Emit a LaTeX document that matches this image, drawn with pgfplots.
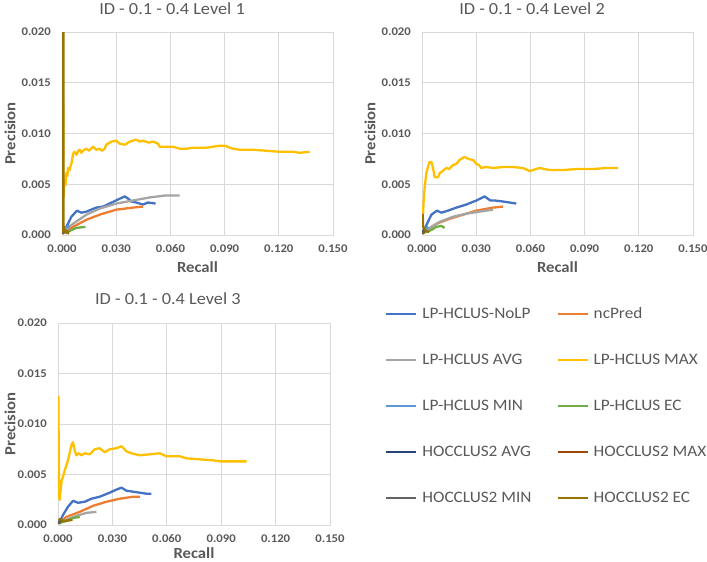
\documentclass[border=0pt]{standalone}
\usepackage{fontspec}
\setmainfont{Carlito}[FakeStretch=1.08]
\usepackage{pgfplots}
\pgfplotsset{compat=1.18}
\definecolor{txt}{HTML}{595959}
\definecolor{grd}{HTML}{D9D9D9}
\definecolor{cNoLP}{HTML}{4472C4}
\definecolor{cNc}{HTML}{ED7D31}
\definecolor{cAvg}{HTML}{A5A5A5}
\definecolor{cMax}{HTML}{FFC000}
\definecolor{cMin}{HTML}{5B9BD5}
\definecolor{cEc}{HTML}{70AD47}
\definecolor{hAvg}{HTML}{264478}
\definecolor{hMax}{HTML}{9E480E}
\definecolor{hMin}{HTML}{636363}
\definecolor{hEc}{HTML}{997300}
\pgfplotsset{
  myax/.style={
    scale only axis, width=271bp, height=203bp,
    xmin=0, xmax=0.15, ymin=0, ymax=0.02,
    xtick={0,0.03,0.06,0.09,0.12,0.15},
    ytick={0,0.005,0.01,0.015,0.02},
    scaled ticks=false,
    /pgf/number format/assume math mode=true,
    /pgf/number format/fixed,
    /pgf/number format/fixed zerofill,
    /pgf/number format/precision=3,
    tick label style={font=\fontsize{11.8}{14}\selectfont\bfseries, text=txt},
    xticklabel style={anchor=center, yshift=-14bp},
    yticklabel style={anchor=east, inner xsep=0pt, xshift=-11bp},
    major tick length=0pt,
    grid=major, grid style={grd, line width=0.75bp},
    axis line style={grd, line width=0.75bp},
    label style={font=\fontsize{15.5}{18}\selectfont\bfseries, text=txt},
    title style={font=\fontsize{17}{20}\selectfont, text=txt, anchor=center},
    every axis plot/.append style={line width=2.3bp, line join=round, no markers},
    xlabel={Recall}, ylabel={Precision},
  },
  sNoLP/.style={cNoLP}, sNc/.style={cNc}, sAvg/.style={cAvg}, sMax/.style={cMax},
  sMin/.style={cMin}, sEc/.style={cEc}, shAvg/.style={hAvg}, shMax/.style={hMax},
  shMin/.style={hMin}, shEc/.style={hEc},
}
\begin{document}
\begin{tikzpicture}
\useasboundingbox (0,0) rectangle (707bp,-562bp);
% ---------------- Level 1
\begin{axis}[myax, at={(62bp,-235bp)}, anchor=south west,
  title={ID - 0.1 - 0.4 Level 1}, title style={at={(0.406,1.085)}},
  xlabel style={at={(0.5,-0.158)}, anchor=center},
  ylabel style={at={(-0.192,0.5)}, anchor=center}]
\addplot[sNoLP] coordinates {(0.0015,0.0005)(0.0033,0.0011)(0.0052,0.0018)(0.0083,0.0024)(0.0107,0.0022)(0.0135,0.0023)(0.0162,0.0025)(0.0190,0.0027)(0.0227,0.0028)(0.0264,0.0031)(0.0310,0.0035)(0.0347,0.0038)(0.0365,0.0036)(0.0384,0.0033)(0.0411,0.0032)(0.0448,0.0030)(0.0476,0.0032)(0.0518,0.0031)};
\addplot[sNc] coordinates {(0.0015,0.0003)(0.0061,0.0008)(0.0135,0.0015)(0.0208,0.0020)(0.0301,0.0025)(0.0393,0.0027)(0.0448,0.0028)};
\addplot[sAvg] coordinates {(0.0015,0.0005)(0.0061,0.0011)(0.0135,0.0020)(0.0208,0.0026)(0.0301,0.0031)(0.0393,0.0034)(0.0485,0.0037)(0.0577,0.0039)(0.0651,0.0039)};
\addplot[sMax] coordinates {(0.0006,0.0135)(0.0007,0.0040)(0.0009,0.0038)(0.0012,0.0050)(0.0015,0.0054)(0.0019,0.0049)(0.0024,0.0061)(0.0030,0.0058)(0.0033,0.0066)(0.0042,0.0064)(0.0047,0.0068)(0.0052,0.0070)(0.0061,0.0080)(0.0070,0.0082)(0.0080,0.0079)(0.0090,0.0083)(0.0098,0.0084)(0.0107,0.0081)(0.0115,0.0083)(0.0135,0.0085)(0.0150,0.0083)(0.0172,0.0087)(0.0190,0.0084)(0.0208,0.0085)(0.0220,0.0083)(0.0236,0.0085)(0.0245,0.0089)(0.0273,0.0092)(0.0301,0.0093)(0.0319,0.0090)(0.0347,0.0089)(0.0375,0.0092)(0.0411,0.0094)(0.0430,0.0092)(0.0448,0.0093)(0.0480,0.0091)(0.0504,0.0092)(0.0531,0.0090)(0.0541,0.0087)(0.0577,0.0087)(0.0614,0.0087)(0.0651,0.0085)(0.0688,0.0085)(0.0725,0.0086)(0.0799,0.0086)(0.0873,0.0088)(0.0900,0.0088)(0.0946,0.0085)(0.0983,0.0084)(0.1057,0.0084)(0.1131,0.0083)(0.1205,0.0082)(0.1279,0.0082)(0.1315,0.0081)(0.1371,0.0082)};
\addplot[sMin] coordinates {(0.0005,0.0003)(0.0020,0.0007)(0.0040,0.0009)};
\addplot[sEc] coordinates {(0.0006,0.0002)(0.0042,0.0004)(0.0079,0.0007)(0.0130,0.0008)};
\addplot[shAvg] coordinates {(0.0003,0.0002)(0.0010,0.0005)(0.0020,0.0004)};
\addplot[shMax] coordinates {(0.0003,0.0001)(0.0010,0.0003)};
\addplot[shMin] coordinates {(0.0002,0.0002)(0.0008,0.0004)};
\addplot[shEc, line width=3.6bp] coordinates {(0.0004,0.0250)(0.0004,0.0010)(0.0010,0.0004)(0.0040,0.0002)};
\end{axis}
% ---------------- Level 2
\begin{axis}[myax, at={(422bp,-235bp)}, anchor=south west,
  title={ID - 0.1 - 0.4 Level 2}, title style={at={(0.406,1.085)}},
  xlabel style={at={(0.5,-0.158)}, anchor=center},
  ylabel style={at={(-0.192,0.5)}, anchor=center}]
\addplot[sNoLP] coordinates {(0.0006,0.0003)(0.0033,0.0013)(0.0052,0.0020)(0.0083,0.0024)(0.0107,0.0022)(0.0144,0.0024)(0.0190,0.0027)(0.0245,0.0030)(0.0301,0.0034)(0.0347,0.0038)(0.0378,0.0034)(0.0402,0.0034)(0.0448,0.0033)(0.0485,0.0032)(0.0522,0.0031)};
\addplot[sNc] coordinates {(0.0015,0.0003)(0.0079,0.0011)(0.0153,0.0016)(0.0227,0.0020)(0.0301,0.0024)(0.0393,0.0027)(0.0448,0.0028)};
\addplot[sAvg] coordinates {(0.0015,0.0004)(0.0098,0.0013)(0.0172,0.0018)(0.0245,0.0021)(0.0319,0.0023)(0.0393,0.0025)};
\addplot[sMax] coordinates {(0.0006,0.0021)(0.0009,0.0034)(0.0015,0.0048)(0.0018,0.0052)(0.0024,0.0061)(0.0033,0.0067)(0.0042,0.0072)(0.0052,0.0072)(0.0061,0.0066)(0.0070,0.0057)(0.0089,0.0057)(0.0098,0.0061)(0.0107,0.0062)(0.0120,0.0064)(0.0135,0.0066)(0.0150,0.0065)(0.0172,0.0069)(0.0190,0.0070)(0.0208,0.0074)(0.0236,0.0077)(0.0255,0.0075)(0.0282,0.0074)(0.0301,0.0070)(0.0315,0.0069)(0.0328,0.0066)(0.0356,0.0067)(0.0393,0.0066)(0.0448,0.0067)(0.0504,0.0067)(0.0559,0.0066)(0.0596,0.0063)(0.0651,0.0066)(0.0707,0.0064)(0.0780,0.0064)(0.0854,0.0065)(0.0946,0.0065)(0.1020,0.0066)(0.1085,0.0066)};
\addplot[sMin] coordinates {(0.0005,0.0003)(0.0020,0.0006)(0.0035,0.0008)};
\addplot[sEc] coordinates {(0.0010,0.0002)(0.0052,0.0005)(0.0079,0.0008)(0.0107,0.0009)(0.0125,0.0007)};
\addplot[shAvg] coordinates {(0.0003,0.0002)(0.0010,0.0005)(0.0020,0.0004)};
\addplot[shMax] coordinates {(0.0003,0.0001)(0.0010,0.0003)};
\addplot[shMin] coordinates {(0.0002,0.0002)(0.0008,0.0004)};
\addplot[shEc] coordinates {(0.0004,0.0021)(0.0006,0.0008)(0.0020,0.0004)(0.0040,0.0003)};
\end{axis}
% ---------------- Level 3
\begin{axis}[myax, width=272bp, height=202bp, at={(58bp,-525bp)}, anchor=south west,
  title={ID - 0.1 - 0.4 Level 3}, title style={at={(0.404,1.089)}},
  xlabel style={at={(0.5,-0.140)}, anchor=center},
  ylabel style={at={(-0.176,0.5)}, anchor=center},
  legend columns=2, legend cell align=left,
  legend image code/.code={\draw[#1] (0bp,0bp) -- (30bp,0bp);},
  legend style={at={(1.202,1.079)}, anchor=north west, draw=none, fill=none,
    inner sep=0pt, font=\fontsize{16}{19}\selectfont, text=txt,
    nodes={inner xsep=5bp, inner ysep=0pt, text height=11bp, text depth=3bp},
    row sep=32bp, column sep=0bp,
    /tikz/every even column/.append style={column sep=5bp}}]
\addplot[sNoLP] coordinates {(0.0006,0.0002)(0.0028,0.0010)(0.0055,0.0018)(0.0083,0.0024)(0.0110,0.0022)(0.0147,0.0023)(0.0184,0.0026)(0.0230,0.0028)(0.0285,0.0032)(0.0322,0.0035)(0.0350,0.0037)(0.0377,0.0034)(0.0414,0.0033)(0.0451,0.0032)(0.0488,0.0031)(0.0515,0.0031)};
\addlegendentry{\makebox[124bp][l]{LP-HCLUS-NoLP}}
\addplot[sNc] coordinates {(0.0006,0.0002)(0.0046,0.0008)(0.0120,0.0013)(0.0193,0.0019)(0.0267,0.0023)(0.0340,0.0026)(0.0414,0.0028)(0.0451,0.0028)};
\addlegendentry{ncPred}
\addplot[sAvg] coordinates {(0.0009,0.0002)(0.0046,0.0005)(0.0101,0.0009)(0.0156,0.0012)(0.0212,0.0013)};
\addlegendentry{\makebox[124bp][l]{LP-HCLUS AVG}}
\addplot[sMax] coordinates {(0.0002,0.0128)(0.0006,0.0028)(0.0009,0.0025)(0.0015,0.0035)(0.0020,0.0044)(0.0028,0.0048)(0.0037,0.0054)(0.0046,0.0059)(0.0055,0.0064)(0.0064,0.0071)(0.0074,0.0079)(0.0083,0.0082)(0.0092,0.0074)(0.0101,0.0069)(0.0115,0.0071)(0.0129,0.0069)(0.0147,0.0071)(0.0175,0.0070)(0.0202,0.0075)(0.0230,0.0076)(0.0258,0.0072)(0.0285,0.0075)(0.0322,0.0076)(0.0350,0.0078)(0.0377,0.0073)(0.0405,0.0071)(0.0451,0.0069)(0.0506,0.0070)(0.0561,0.0071)(0.0598,0.0068)(0.0672,0.0068)(0.0709,0.0066)(0.0782,0.0065)(0.0856,0.0064)(0.0893,0.0063)(0.0966,0.0063)(0.1040,0.0063)};
\addlegendentry{LP-HCLUS MAX}
\addplot[sMin] coordinates {(0.0005,0.0002)(0.0020,0.0004)(0.0035,0.0005)};
\addlegendentry{\makebox[124bp][l]{LP-HCLUS MIN}}
\addplot[sEc] coordinates {(0.0009,0.0002)(0.0046,0.0004)(0.0083,0.0007)(0.0120,0.0008)};
\addlegendentry{LP-HCLUS EC}
\addplot[shAvg] coordinates {(0.0003,0.0002)(0.0010,0.0004)(0.0020,0.0004)};
\addlegendentry{\makebox[124bp][l]{HOCCLUS2 AVG}}
\addplot[shMax] coordinates {(0.0003,0.0001)(0.0010,0.0003)};
\addlegendentry{HOCCLUS2 MAX}
\addplot[shMin] coordinates {(0.0002,0.0002)(0.0008,0.0004)};
\addlegendentry{\makebox[124bp][l]{HOCCLUS2 MIN}}
\addplot[shEc] coordinates {(0.0003,0.0006)(0.0030,0.0004)(0.0080,0.0005)};
\addlegendentry{HOCCLUS2 EC}
\end{axis}
\end{tikzpicture}
\end{document}
